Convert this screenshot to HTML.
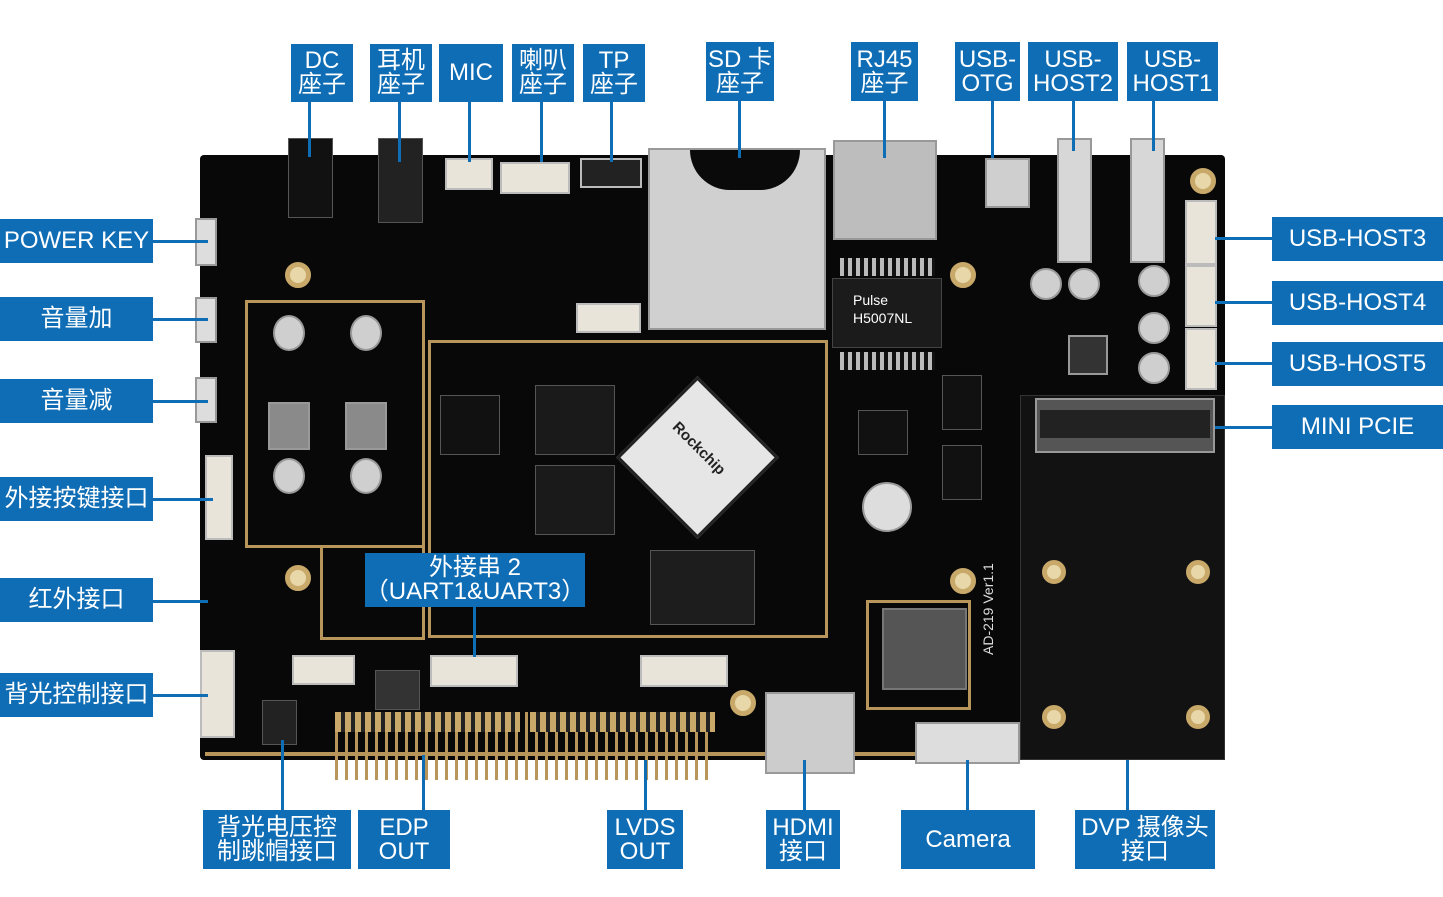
<!DOCTYPE html><html><head><meta charset="utf-8"><style>
body{margin:0;width:1443px;height:897px;background:#fff;position:relative;overflow:hidden;font-family:"Liberation Sans","Noto Sans CJK SC",sans-serif}
div{position:absolute;box-sizing:border-box}
.l{background:#0f6db5;color:#fff;display:flex;align-items:center;justify-content:center;text-align:center;line-height:1.0;font-size:24px}
.v{background:#0f6db5;width:3px}
.h{background:#0f6db5;height:3px}
.g{border:3px solid #b8955a}
.w{background:#e8e4da;border:2px solid #bbb}
.s{background:#cfcfcf;border:2px solid #999}
.c{background:#111;border:1px solid #555}
.hole{border-radius:50%;background:#e8d7a8;border:5px solid #c9a96a}
</style></head><body>
<!-- board -->
<div style="left:200px;top:155px;width:1025px;height:605px;background:#080808;border-radius:4px"></div>
<div style="left:1020px;top:395px;width:205px;height:365px;background:#121212;border:1px solid #333"></div>
<div class="g" style="left:245px;top:300px;width:180px;height:248px"></div>
<div class="g" style="left:320px;top:545px;width:105px;height:95px"></div>
<div class="g" style="left:428px;top:340px;width:400px;height:298px"></div>
<div class="g" style="left:866px;top:600px;width:105px;height:110px"></div>
<div style="left:205px;top:752px;width:760px;height:4px;background:#b8955a"></div>
<!-- CPU -->
<div style="left:640px;top:400px;width:115px;height:115px;background:#e6e6e6;border:3px solid #222;transform:rotate(45deg)"></div>
<div style="left:665px;top:440px;color:#222;font-size:15px;font-weight:bold;transform:rotate(45deg)">Rockchip</div>
<div class="c" style="left:535px;top:385px;width:80px;height:70px;background:#1a1a1a"></div>
<div class="c" style="left:535px;top:465px;width:80px;height:70px;background:#1a1a1a"></div>
<div class="c" style="left:650px;top:550px;width:105px;height:75px;background:#1d1d1d"></div>
<div class="c" style="left:440px;top:395px;width:60px;height:60px"></div>
<!-- SD -->
<div class="s" style="left:648px;top:148px;width:178px;height:182px;background:#d0d0d0"></div>
<div style="left:690px;top:150px;width:110px;height:40px;background:#0a0a0a;border-radius:0 0 55px 55px"></div>
<!-- RJ45 -->
<div class="s" style="left:833px;top:140px;width:104px;height:100px;background:#bdbdbd"></div>
<div style="left:832px;top:278px;width:110px;height:70px;background:#1b1b1b;border:1px solid #444;color:#fff;font-size:14px;padding:12px 0 0 20px;line-height:1.3">Pulse<br>H5007NL</div>
<div style="left:840px;top:258px;width:95px;height:18px;background:repeating-linear-gradient(90deg,#bbb 0 4px,#111 4px 8px)"></div>
<div style="left:840px;top:352px;width:95px;height:18px;background:repeating-linear-gradient(90deg,#bbb 0 4px,#111 4px 8px)"></div>
<!-- USB -->
<div class="s" style="left:985px;top:158px;width:45px;height:50px"></div>
<div class="s" style="left:1057px;top:138px;width:35px;height:125px;background:#d7d7d7"></div>
<div class="s" style="left:1130px;top:138px;width:35px;height:125px;background:#d7d7d7"></div>
<div class="w" style="left:1185px;top:200px;width:32px;height:65px"></div>
<div class="w" style="left:1185px;top:265px;width:32px;height:62px"></div>
<div class="w" style="left:1185px;top:328px;width:32px;height:62px"></div>
<div style="left:1035px;top:398px;width:180px;height:55px;background:#555;border:2px solid #999"></div>
<div style="left:1040px;top:410px;width:170px;height:28px;background:#222"></div>
<!-- caps -->
<div class="s" style="left:1030px;top:268px;width:32px;height:32px;border-radius:50%"></div>
<div class="s" style="left:1068px;top:268px;width:32px;height:32px;border-radius:50%"></div>
<div class="s" style="left:1138px;top:265px;width:32px;height:32px;border-radius:50%"></div>
<div class="s" style="left:1138px;top:312px;width:32px;height:32px;border-radius:50%"></div>
<div class="s" style="left:1138px;top:352px;width:32px;height:32px;border-radius:50%"></div>
<div class="s" style="left:273px;top:315px;width:32px;height:36px;border-radius:50%"></div>
<div class="s" style="left:350px;top:315px;width:32px;height:36px;border-radius:50%"></div>
<div class="s" style="left:273px;top:458px;width:32px;height:36px;border-radius:50%"></div>
<div class="s" style="left:350px;top:458px;width:32px;height:36px;border-radius:50%"></div>
<div class="s" style="left:268px;top:402px;width:42px;height:48px;background:#8a8a8a"></div>
<div class="s" style="left:345px;top:402px;width:42px;height:48px;background:#8a8a8a"></div>
<div class="s" style="left:1068px;top:335px;width:40px;height:40px;background:#333"></div>
<div class="s" style="left:862px;top:482px;width:50px;height:50px;border-radius:50%;background:#ddd"></div>
<div class="c" style="left:942px;top:375px;width:40px;height:55px"></div>
<div class="c" style="left:942px;top:445px;width:40px;height:55px"></div>
<div class="c" style="left:858px;top:410px;width:50px;height:45px"></div>
<div style="left:882px;top:608px;width:85px;height:82px;background:#555;border:2px solid #777"></div>
<!-- holes -->
<div class="hole" style="left:285px;top:262px;width:26px;height:26px"></div>
<div class="hole" style="left:1190px;top:168px;width:26px;height:26px"></div>
<div class="hole" style="left:950px;top:262px;width:26px;height:26px"></div>
<div class="hole" style="left:285px;top:565px;width:26px;height:26px"></div>
<div class="hole" style="left:950px;top:568px;width:26px;height:26px"></div>
<div class="hole" style="left:730px;top:690px;width:26px;height:26px"></div>
<div class="hole" style="left:1042px;top:560px;width:24px;height:24px"></div>
<div class="hole" style="left:1186px;top:560px;width:24px;height:24px"></div>
<div class="hole" style="left:1042px;top:705px;width:24px;height:24px"></div>
<div class="hole" style="left:1186px;top:705px;width:24px;height:24px"></div>
<div style="left:980px;top:540px;color:#ddd;font-size:14px;transform:rotate(-90deg);transform-origin:left top;top:655px">AD-219 Ver1.1</div>
<!-- connectors -->
<div class="c" style="left:288px;top:138px;width:45px;height:80px"></div>
<div class="c" style="left:378px;top:138px;width:45px;height:85px;background:#222"></div>
<div class="w" style="left:445px;top:158px;width:48px;height:32px"></div>
<div class="w" style="left:500px;top:162px;width:70px;height:32px"></div>
<div class="w" style="left:580px;top:158px;width:62px;height:30px;background:#222"></div>
<div class="w" style="left:576px;top:303px;width:65px;height:30px"></div>
<div class="w" style="left:205px;top:455px;width:28px;height:85px"></div>
<div class="w" style="left:200px;top:650px;width:35px;height:88px"></div>
<div class="w" style="left:292px;top:655px;width:63px;height:30px"></div>
<div class="w" style="left:430px;top:655px;width:88px;height:32px"></div>
<div class="w" style="left:640px;top:655px;width:88px;height:32px"></div>
<div class="s" style="left:195px;top:218px;width:22px;height:48px;background:#ddd"></div>
<div class="s" style="left:195px;top:297px;width:22px;height:46px;background:#ddd"></div>
<div class="s" style="left:195px;top:377px;width:22px;height:46px;background:#ddd"></div>
<div class="c" style="left:375px;top:670px;width:45px;height:40px;background:#333"></div>
<div style="left:335px;top:712px;width:375px;height:68px;background:repeating-linear-gradient(90deg,#b8955a 0 3px,transparent 3px 10px)"></div>
<div style="left:335px;top:712px;width:185px;height:20px;background:repeating-linear-gradient(90deg,#c9a96a 0 6px,#222 6px 10px)"></div>
<div style="left:530px;top:712px;width:185px;height:20px;background:repeating-linear-gradient(90deg,#c9a96a 0 6px,#222 6px 10px)"></div>
<div class="s" style="left:765px;top:692px;width:90px;height:82px;background:#ccc"></div>
<div class="s" style="left:915px;top:722px;width:105px;height:42px;background:#ddd"></div>
<div class="c" style="left:262px;top:700px;width:35px;height:45px;background:#222"></div>
<!-- leader lines -->
<div class="v" style="left:308px;top:102px;height:55px"></div>
<div class="v" style="left:398px;top:102px;height:60px"></div>
<div class="v" style="left:468px;top:102px;height:60px"></div>
<div class="v" style="left:540px;top:102px;height:60px"></div>
<div class="v" style="left:610px;top:102px;height:60px"></div>
<div class="v" style="left:738px;top:101px;height:57px"></div>
<div class="v" style="left:883px;top:101px;height:57px"></div>
<div class="v" style="left:991px;top:101px;height:57px"></div>
<div class="v" style="left:1072px;top:101px;height:50px"></div>
<div class="v" style="left:1152px;top:101px;height:50px"></div>
<div class="h" style="left:153px;top:240px;width:55px"></div>
<div class="h" style="left:153px;top:318px;width:55px"></div>
<div class="h" style="left:153px;top:400px;width:55px"></div>
<div class="h" style="left:153px;top:498px;width:60px"></div>
<div class="h" style="left:153px;top:600px;width:55px"></div>
<div class="h" style="left:153px;top:694px;width:55px"></div>
<div class="h" style="left:1215px;top:237px;width:57px"></div>
<div class="h" style="left:1215px;top:301px;width:57px"></div>
<div class="h" style="left:1215px;top:362px;width:57px"></div>
<div class="h" style="left:1215px;top:426px;width:57px"></div>
<div class="v" style="left:281px;top:740px;height:70px"></div>
<div class="v" style="left:422px;top:755px;height:55px"></div>
<div class="v" style="left:644px;top:760px;height:50px"></div>
<div class="v" style="left:803px;top:760px;height:50px"></div>
<div class="v" style="left:966px;top:760px;height:50px"></div>
<div class="v" style="left:1126px;top:760px;height:50px"></div>
<div class="v" style="left:473px;top:607px;height:50px"></div>
<!-- labels -->
<div class="l" style="left:291px;top:44px;width:62px;height:58px">DC<br>座子</div>
<div class="l" style="left:370px;top:44px;width:62px;height:58px">耳机<br>座子</div>
<div class="l" style="left:439px;top:44px;width:64px;height:58px">MIC</div>
<div class="l" style="left:512px;top:44px;width:62px;height:58px">喇叭<br>座子</div>
<div class="l" style="left:583px;top:44px;width:62px;height:58px">TP<br>座子</div>
<div class="l" style="left:706px;top:42px;width:68px;height:59px">SD 卡<br>座子</div>
<div class="l" style="left:851px;top:42px;width:67px;height:59px">RJ45<br>座子</div>
<div class="l" style="left:955px;top:42px;width:65px;height:59px">USB-<br>OTG</div>
<div class="l" style="left:1028px;top:42px;width:90px;height:59px">USB-<br>HOST2</div>
<div class="l" style="left:1127px;top:42px;width:91px;height:59px">USB-<br>HOST1</div>
<div class="l" style="left:0;top:219px;width:153px;height:44px">POWER KEY</div>
<div class="l" style="left:0;top:297px;width:153px;height:44px">音量加</div>
<div class="l" style="left:0;top:379px;width:153px;height:44px">音量减</div>
<div class="l" style="left:0;top:477px;width:153px;height:44px">外接按键接口</div>
<div class="l" style="left:0;top:578px;width:153px;height:44px">红外接口</div>
<div class="l" style="left:0;top:673px;width:153px;height:44px">背光控制接口</div>
<div class="l" style="left:1272px;top:217px;width:171px;height:44px">USB-HOST3</div>
<div class="l" style="left:1272px;top:281px;width:171px;height:44px">USB-HOST4</div>
<div class="l" style="left:1272px;top:342px;width:171px;height:44px">USB-HOST5</div>
<div class="l" style="left:1272px;top:405px;width:171px;height:44px">MINI PCIE</div>
<div class="l" style="left:365px;top:553px;width:220px;height:54px">外接串 2<br>（UART1&amp;UART3）</div>
<div class="l" style="left:203px;top:810px;width:148px;height:59px">背光电压控<br>制跳帽接口</div>
<div class="l" style="left:358px;top:810px;width:92px;height:59px">EDP<br>OUT</div>
<div class="l" style="left:607px;top:810px;width:76px;height:59px">LVDS<br>OUT</div>
<div class="l" style="left:766px;top:810px;width:74px;height:59px">HDMI<br>接口</div>
<div class="l" style="left:901px;top:810px;width:134px;height:59px">Camera</div>
<div class="l" style="left:1075px;top:810px;width:140px;height:59px">DVP 摄像头<br>接口</div>
</body></html>
